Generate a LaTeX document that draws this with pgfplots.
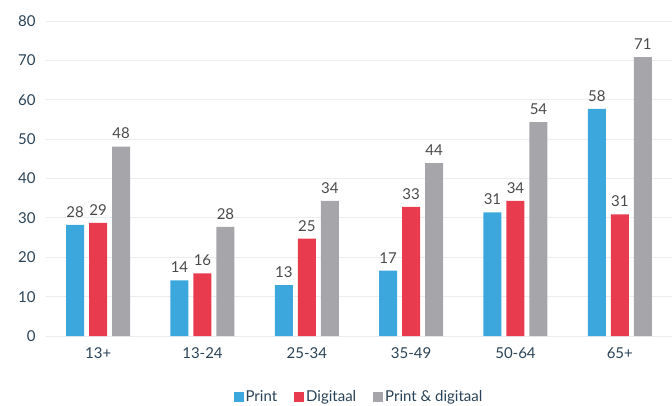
\documentclass[border=0pt]{standalone}
\usepackage{pgfplots}
\pgfplotsset{compat=1.18}
\usepackage{fontspec}
\setmainfont{Lato}
\definecolor{cblue}{HTML}{3BA7DD}
\definecolor{cred}{HTML}{E83C4E}
\definecolor{cgray}{HTML}{A6A5A9}
\definecolor{ticktxt}{HTML}{2A4358}
\definecolor{lbltxt}{HTML}{4A4A4A}
\definecolor{gridc}{HTML}{EDEDF0}
\begin{document}
\begin{tikzpicture}
\begin{axis}[
  at={(0,0)}, anchor=south west,
  width=626pt, height=315pt, scale only axis,
  ybar, bar width=18pt,
  ymin=0, ymax=80, ytick={0,10,...,80},
  xmin=-0.5, xmax=5.5,
  xtick={0,1,2,3,4,5},
  xticklabels={13+,13-24,25-34,35-49,50-64,65+},
  axis line style={draw=none},
  major tick length=0pt,
  ymajorgrids, grid style={gridc, line width=0.8pt},
  /pgf/number format/assume math mode=true,
  tick label style={font=\fontsize{15}{17}\selectfont, color=ticktxt},
  yticklabel style={xshift=-7pt},
  xticklabel style={yshift=-8pt},
  nodes near coords,
  nodes near coords style={font=\fontsize{15}{17}\selectfont, color=lbltxt, anchor=south, yshift=4pt,
    /pgf/number format/fixed, /pgf/number format/precision=0},
  legend style={at={(0.5,-0.194)}, anchor=center, draw=none, legend columns=-1,
    font=\fontsize{15}{17}\selectfont, text=ticktxt,
    /tikz/every even column/.append style={column sep=15pt}},
  legend cell align=left,
  clip=false,
]
\addplot[fill=cblue, draw=none, bar shift=-23pt, legend image code/.code={\fill[cblue] (0pt,-5pt) rectangle (10pt,5pt);}]
  coordinates {(0,28.2) (1,14.1) (2,12.9) (3,16.6) (4,31.4) (5,57.7)};
\addlegendentry{Print}
\addplot[fill=cred, draw=none, bar shift=0pt, legend image code/.code={\fill[cred] (0pt,-5pt) rectangle (10pt,5pt);}]
  coordinates {(0,28.7) (1,15.9) (2,24.7) (3,32.8) (4,34.3) (5,30.9)};
\addlegendentry{Digitaal}
\addplot[fill=cgray, draw=none, bar shift=23pt, legend image code/.code={\fill[cgray] (0pt,-5pt) rectangle (10pt,5pt);}]
  coordinates {(0,48.1) (1,27.7) (2,34.3) (3,43.9) (4,54.3) (5,70.8)};
\addlegendentry{Print \& digitaal}
\end{axis}
\pgfresetboundingbox
\path (-46pt,-69pt) rectangle (626pt,336pt);
\end{tikzpicture}
\end{document}
